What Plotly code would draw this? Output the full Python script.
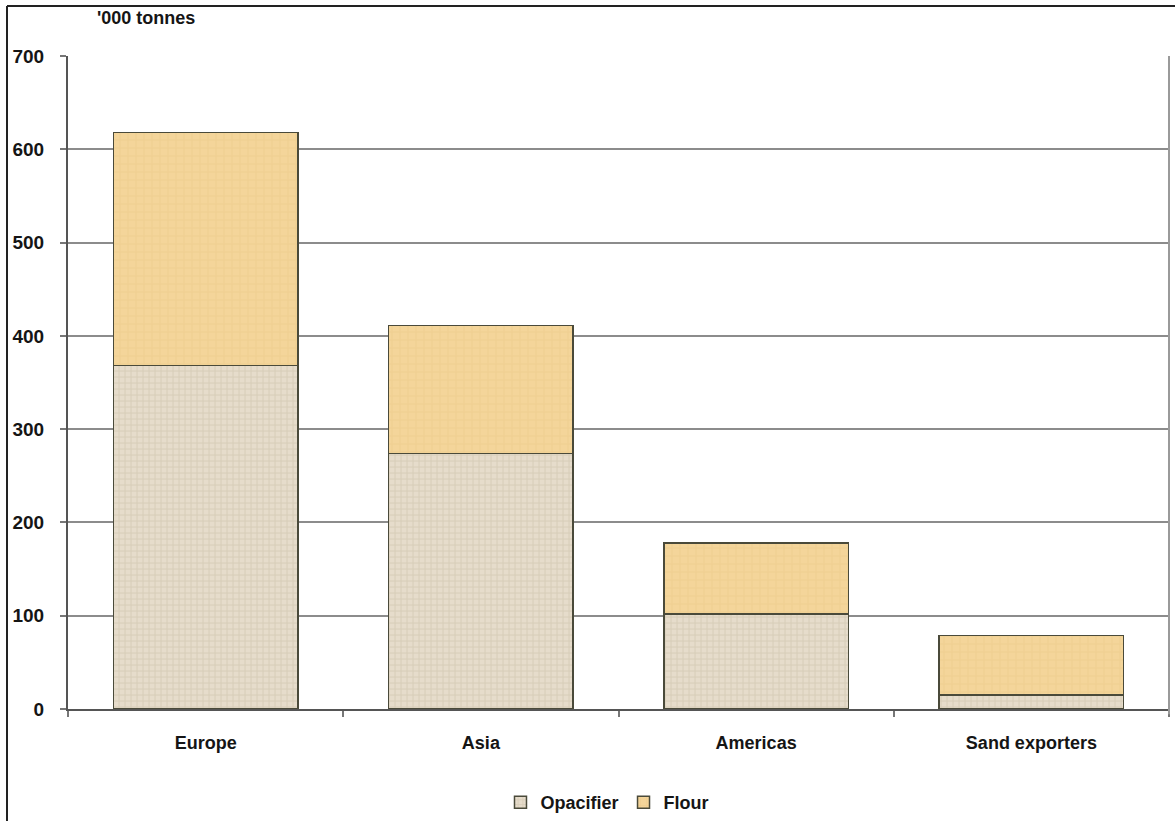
import plotly.graph_objects as go

regions = ["Europe", "Asia", "Americas", "Sand exporters"]
opacifier = [368, 274, 102, 15]
flour = [250, 137, 76, 64]
y_ticks = [0, 100, 200, 300, 400, 500, 600, 700]

W, H = 1175, 821
L, R, T, B = 68, 6, 56, 112
pw, ph = W - L - R, H - T - B

FAM = "Liberation Sans, Arial, sans-serif"
INK = "#151515"

fig = go.Figure()
fig.add_trace(go.Bar(
    x=regions, y=opacifier, name="Opacifier",
    marker=dict(
        color="#e6dccb",
        line=dict(color="#4a4a3a", width=1.5),
        pattern=dict(shape="+", fgcolor="#c9bca4", size=6, solidity=0.3),
    ),
))
fig.add_trace(go.Bar(
    x=regions, y=flour, name="Flour",
    marker=dict(
        color="#f4d59a",
        line=dict(color="#4a4a3a", width=1.5),
        pattern=dict(shape="+", fgcolor="#e8c585", size=8, solidity=0.2),
    ),
))

fig.update_layout(
    barmode="stack",
    bargap=0.33,
    width=W, height=H,
    margin=dict(l=L, r=R, t=T, b=B, autoexpand=False),
    paper_bgcolor="white",
    plot_bgcolor="white",
    font=dict(family=FAM),
    showlegend=True,
    legend=dict(
        orientation="h", x=0.49, xanchor="center",
        yref="container", y=-0.008, yanchor="bottom",
        font=dict(family=FAM, size=18, color=INK, weight="bold"),
        itemwidth=30, traceorder="normal",
    ),
    xaxis=dict(
        automargin=False,
        showgrid=False, showline=True, linecolor="#555555", linewidth=2,
        ticks="outside", tickson="boundaries", ticklen=6, tickcolor="#777777",
        tickwidth=2,
        tickfont=dict(family=FAM, size=18, color=INK, weight="bold"),
        ticklabelstandoff=16,
    ),
    yaxis=dict(
        automargin=False,
        range=[0, 700], tickvals=y_ticks,
        showgrid=True, gridcolor="#8c8c8c", gridwidth=2,
        showline=True, linecolor="#555555", linewidth=2,
        ticks="outside", ticklen=6, tickcolor="#777777", tickwidth=2,
        tickfont=dict(family=FAM, size=19, color=INK, weight="bold"),
        ticklabelstandoff=12, zeroline=False,
    ),
    annotations=[dict(
        text="<b>'000 tonnes</b>", xref="paper", yref="paper",
        x=(146 - L) / pw, y=(H - B - 18) / ph, showarrow=False,
        xanchor="center", yanchor="middle",
        font=dict(family=FAM, size=18, color=INK),
    )],
    shapes=[
        # right edge of the plotting area
        dict(type="line", xref="paper", yref="paper", x0=1, x1=1, y0=-0.008, y1=1,
             line=dict(color="#9a9a9a", width=2)),
        # outer frame: top and left edges
        dict(type="line", xref="paper", yref="paper",
             x0=(7 - L) / pw, x1=(W + 5 - L) / pw,
             y0=(H - B - 6) / ph, y1=(H - B - 6) / ph,
             line=dict(color="#222222", width=2)),
        dict(type="line", xref="paper", yref="paper",
             x0=(7 - L) / pw, x1=(7 - L) / pw,
             y0=(H - B - 6) / ph, y1=-(B + 10) / ph,
             line=dict(color="#222222", width=2)),
    ],
)

fig.write_html("out.html")
